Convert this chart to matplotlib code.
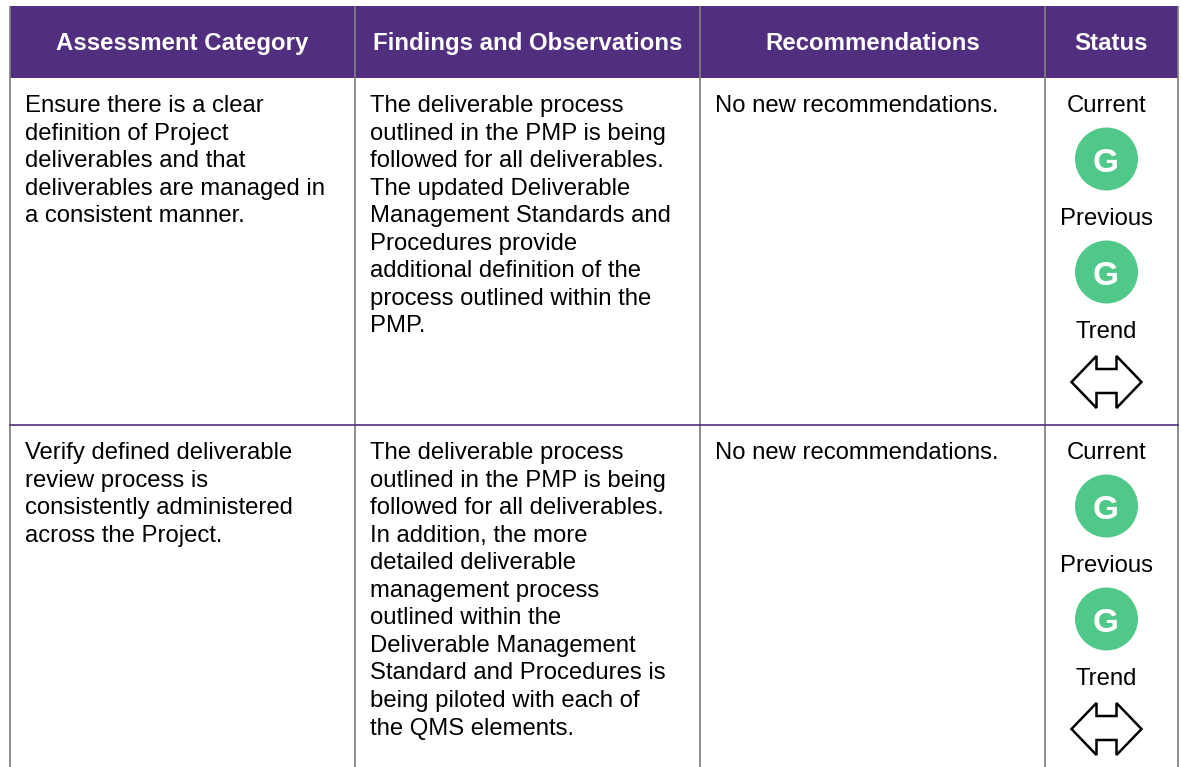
import matplotlib
matplotlib.use("Agg")
import matplotlib.pyplot as plt
from matplotlib.patches import Circle, Polygon, Rectangle

plt.rcParams['font.family'] = ['Liberation Sans', 'DejaVu Sans']

headers = ["Assessment Category", "Findings and Observations", "Recommendations", "Status"]
category = [
    ["Ensure there is a clear", "definition of Project", "deliverables and that",
     "deliverables are managed in", "a consistent manner."],
    ["Verify defined deliverable", "review process is", "consistently administered",
     "across the Project."],
]
findings = [
    ["The deliverable process", "outlined in the PMP is being", "followed for all deliverables.",
     "The updated Deliverable", "Management Standards and", "Procedures provide",
     "additional definition of the", "process outlined within the", "PMP."],
    ["The deliverable process", "outlined in the PMP is being", "followed for all deliverables.",
     "In addition, the more", "detailed deliverable", "management process",
     "outlined within the", "Deliverable Management", "Standard and Procedures is",
     "being piloted with each of", "the QMS elements."],
]
recs = ["No new recommendations.", "No new recommendations."]
status = ["G", "G"]

purple = "#512E7E"
green = "#50C88A"
grey = "#808080"
col_x = [10, 355, 700, 1045, 1178]
row_y = [78, 425]
fs = 17.18
fs_head = 17.3

fig = plt.figure(figsize=(11.82, 7.67), dpi=100)
ax = fig.add_axes([0, 0, 1, 1])
ax.set_xlim(0, 1182)
ax.set_ylim(767, 0)
ax.axis("off")


def block(x, y, lines):
    for i, s in enumerate(lines):
        ax.text(x, y + i * 27.55, s, fontsize=fs, color="black", va="baseline")


def trend(cx, cy):
    pts = [(-35, 0), (-10, -26), (-10, -13), (10, -13), (10, -26), (35, 0),
           (10, 26), (10, 11), (-10, 11), (-10, 26)]
    ax.add_patch(Polygon([(cx + a, cy + b) for a, b in pts], closed=True,
                         fc="white", ec="black", lw=1.8, zorder=3))


def light(cx, cy, s):
    ax.add_patch(Circle((cx, cy), 31.5, fc=green, ec="none", zorder=3))
    ax.text(cx - 0.5, cy + 13, s, fontsize=24, color="white", ha="center", va="baseline",
            fontweight="bold", zorder=4)


ax.add_patch(Rectangle((col_x[0], 6), col_x[-1] - col_x[0], 72, fc=purple, ec="none", zorder=1))
for x in col_x:
    ax.plot([x, x], [6, 767], color=grey, lw=1.25, zorder=2, solid_capstyle="butt")
ax.plot([col_x[0], col_x[-1]], [row_y[1], row_y[1]], color=purple, lw=1.2, zorder=2)

for i, h in enumerate(headers):
    ax.text((col_x[i] + col_x[i + 1]) / 2, 50, h, fontsize=fs_head, color="white", ha="center",
            va="baseline", fontweight="bold", zorder=3)

cx = 1106.5
for r, top in enumerate(row_y):
    base = top + 34
    block(col_x[0] + 15, base, category[r])
    block(col_x[1] + 15, base, findings[r])
    block(col_x[2] + 15, base, [recs[r]])
    ax.text(cx, base, "Current", fontsize=fs, ha="center", va="baseline")
    light(cx, top + 81, status[r])
    ax.text(cx, base + 113, "Previous", fontsize=fs, ha="center", va="baseline")
    light(cx, top + 194, status[r])
    ax.text(cx, base + 226, "Trend", fontsize=fs, ha="center", va="baseline")
    trend(cx, top + 304)

fig.savefig("out.png", dpi=100)
